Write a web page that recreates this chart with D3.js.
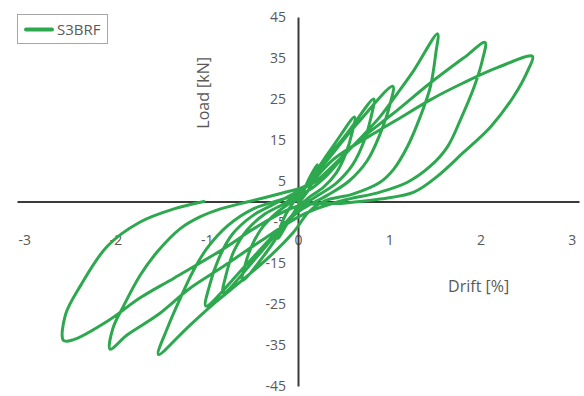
<!DOCTYPE html>
<html>
<head>
<meta charset="utf-8">
<script src="https://cdn.jsdelivr.net/npm/d3@7"></script>
<style>
  html, body { margin: 0; padding: 0; background: #fff; }
  svg { display: block; font-family: "Open Sans", "Noto Sans", sans-serif; }
</style>
</head>
<body>
<svg id="chart" width="584" height="396"></svg>
<script>
// Cyclic drift test of specimen S3BRF: drift [%] vs. load [kN], in test order.
const seriesName = "S3BRF";

const drift = [
  0.00,
  // cycle 1 (±0.2 %)
  0.05, 0.12, 0.21, 0.18, 0.12, 0.04, -0.04, -0.12, -0.22, -0.19, -0.13, -0.05,
  // cycle 2 (±0.6 %)
  0.02, 0.10, 0.20, 0.40, 0.62, 0.59, 0.52, 0.42, 0.28, 0.12,
  0.00, -0.12, -0.35, -0.61, -0.58, -0.50, -0.38, -0.22, -0.08,
  // cycle 3 (±0.8 %)
  0.00, 0.12, 0.25, 0.55, 0.83, 0.80, 0.72, 0.60, 0.42, 0.22,
  0.02, -0.15, -0.45, -0.82, -0.79, -0.70, -0.56, -0.36, -0.15,
  // cycle 4 (±1.0 %)
  0.00, 0.15, 0.30, 0.65, 1.04, 1.00, 0.90, 0.76, 0.56, 0.32,
  0.05, -0.15, -0.55, -1.01, -0.97, -0.87, -0.72, -0.50, -0.25,
  // cycle 5 (±1.5 %)
  0.00, 0.20, 0.35, 0.60, 0.90, 1.09, 1.27, 1.53,
  1.51, 1.45, 1.34, 1.20, 1.05, 0.90, 0.60, 0.30,
  0.12, -0.05, -0.30, -0.60, -0.90, -1.20, -1.53,
  -1.43, -1.29, -1.15, -1.00, -0.77, -0.49, -0.16,
  // cycle 6 (±2.0 %)
  0.10, 0.30, 0.60, 0.90, 1.09, 1.45, 1.82, 2.05,
  2.02, 1.93, 1.78, 1.64, 1.45, 1.20, 0.90, 0.50, 0.20,
  0.00, -0.40, -0.85, -1.18, -1.54, -1.87, -2.06,
  -2.03, -1.91, -1.73, -1.54, -1.29, -1.07, -0.85, -0.50, -0.15,
  // cycle 7 (±2.5 %)
  0.10, 0.40, 0.90, 1.09, 1.45, 1.81, 2.19, 2.57,
  2.52, 2.36, 2.11, 1.81, 1.53, 1.27, 0.90, 0.50, 0.00,
  -0.40, -0.85, -1.36, -1.73, -2.09, -2.46, -2.57,
  -2.55, -2.38, -2.09, -1.73, -1.36, -1.03
];

const load = [
  0.0,
  // cycle 1
  2.0, 5.5, 9.0, 6.0, 3.0, 0.5, -2.5, -5.5, -9.0, -6.0, -3.0, -0.2,
  // cycle 2
  1.5, 4.0, 7.5, 14.0, 20.6, 16.5, 11.5, 7.0, 3.5, 1.0,
  -1.5, -5.0, -12.5, -19.3, -15.5, -10.5, -6.0, -2.5, -0.2,
  // cycle 3
  1.5, 4.5, 8.5, 17.0, 25.0, 20.5, 14.5, 9.0, 4.5, 1.5,
  -1.5, -5.5, -13.5, -22.3, -18.0, -12.0, -7.0, -3.0, -0.5,
  // cycle 4
  2.0, 5.5, 9.5, 19.0, 28.1, 23.0, 16.5, 10.0, 5.0, 1.5,
  -1.8, -5.5, -15.0, -25.5, -20.5, -14.0, -8.0, -3.5, -0.5,
  // cycle 5
  2.5, 5.0, 8.0, 13.5, 20.7, 26.4, 32.0, 40.9,
  36.1, 27.9, 20.7, 13.4, 7.9, 4.7, 1.8, 0.2,
  -2.5, -7.5, -13.2, -19.0, -24.5, -30.5, -37.3,
  -30.8, -23.6, -17.0, -11.5, -5.9, -1.8, 0.6,
  // cycle 6
  2.5, 6.0, 13.5, 19.0, 22.3, 28.9, 35.1, 38.8,
  34.4, 27.9, 19.9, 13.4, 8.6, 4.7, 2.3, 0.3, -1.8,
  -3.8, -9.5, -16.3, -21.1, -27.7, -32.5, -36.0,
  -31.0, -25.4, -18.0, -12.2, -6.6, -3.7, -1.8, 0.2, 2.2,
  // cycle 7
  4.0, 10.5, 17.5, 20.0, 24.8, 28.9, 32.7, 35.4,
  32.0, 25.5, 18.2, 11.9, 6.2, 2.3, 0.6, -0.4, -1.1,
  -5.5, -12.0, -18.7, -23.5, -29.2, -33.7, -33.9,
  -27.7, -20.4, -10.9, -5.0, -1.8, 0.0
];

const xTicks = [-3, -2, -1, 0, 1, 2, 3];
const yTicks = [-45, -35, -25, -15, -5, 5, 15, 25, 35, 45];

const green = "#2ea84f";
const axisColor = "#3a3a3a";
const textColor = "#595959";

// plain hyphen-minus for negative tick labels
const plain = d => String(d);

const svg = d3.select("#chart");

const x = d3.scaleLinear().domain([-3.08, 3.08]).range([17, 579]);
const y = d3.scaleLinear().domain([-45, 45]).range([386, 17]);

// Axes cross at the origin; labels sit away from the lines
const xAxis = svg.append("g")
  .attr("transform", `translate(0,${y(0)})`)
  .call(d3.axisBottom(x).tickValues(xTicks).tickSize(0).tickPadding(34)
        .tickFormat(plain));
xAxis.select(".domain").attr("stroke", axisColor).attr("stroke-width", 2);
xAxis.selectAll("text").attr("fill", textColor).attr("font-size", 14)
  .attr("font-family", "'Open Sans', sans-serif");

const yAxis = svg.append("g")
  .attr("transform", `translate(${x(0)},0)`)
  .call(d3.axisLeft(y).tickValues(yTicks).tickSize(0).tickPadding(12)
        .tickFormat(plain));
yAxis.select(".domain").attr("stroke", axisColor).attr("stroke-width", 2);
yAxis.selectAll("text").attr("fill", textColor).attr("font-size", 14)
  .attr("font-family", "'Open Sans', sans-serif");

// Axis titles
svg.append("text")
  .attr("transform", `translate(${x(-1.04)},${y(26.5)}) rotate(-90)`)
  .attr("text-anchor", "middle")
  .attr("dy", "0.35em")
  .attr("fill", textColor)
  .attr("font-size", 16)
  .text("Load [kN]");

svg.append("text")
  .attr("x", x(1.98))
  .attr("y", y(-20.6))
  .attr("text-anchor", "middle")
  .attr("dy", "0.35em")
  .attr("fill", textColor)
  .attr("font-size", 16)
  .text("Drift [%]");

// Hysteresis curve
const pts = drift.map((d, i) => [d, load[i]]);
const line = d3.line()
  .x(d => x(d[0]))
  .y(d => y(d[1]))
  .curve(d3.curveCatmullRom.alpha(0.5));

svg.append("path")
  .datum(pts)
  .attr("d", line)
  .attr("fill", "none")
  .attr("stroke", green)
  .attr("stroke-width", 3)
  .attr("stroke-linejoin", "round")
  .attr("stroke-linecap", "round");

// Legend
const legend = svg.append("g").attr("transform", "translate(17,14)");
legend.append("rect")
  .attr("x", 0.5).attr("y", 0.5)
  .attr("width", 90).attr("height", 29)
  .attr("fill", "#fff")
  .attr("stroke", "#a6a6a6")
  .attr("stroke-width", 1);
legend.append("line")
  .attr("x1", 9).attr("x2", 35)
  .attr("y1", 15.5).attr("y2", 15.5)
  .attr("stroke", green)
  .attr("stroke-width", 4)
  .attr("stroke-linecap", "round");
legend.append("text")
  .attr("x", 40).attr("y", 15.5)
  .attr("dy", "0.35em")
  .attr("fill", textColor)
  .attr("font-size", 15)
  .text(seriesName);
</script>
</body>
</html>
